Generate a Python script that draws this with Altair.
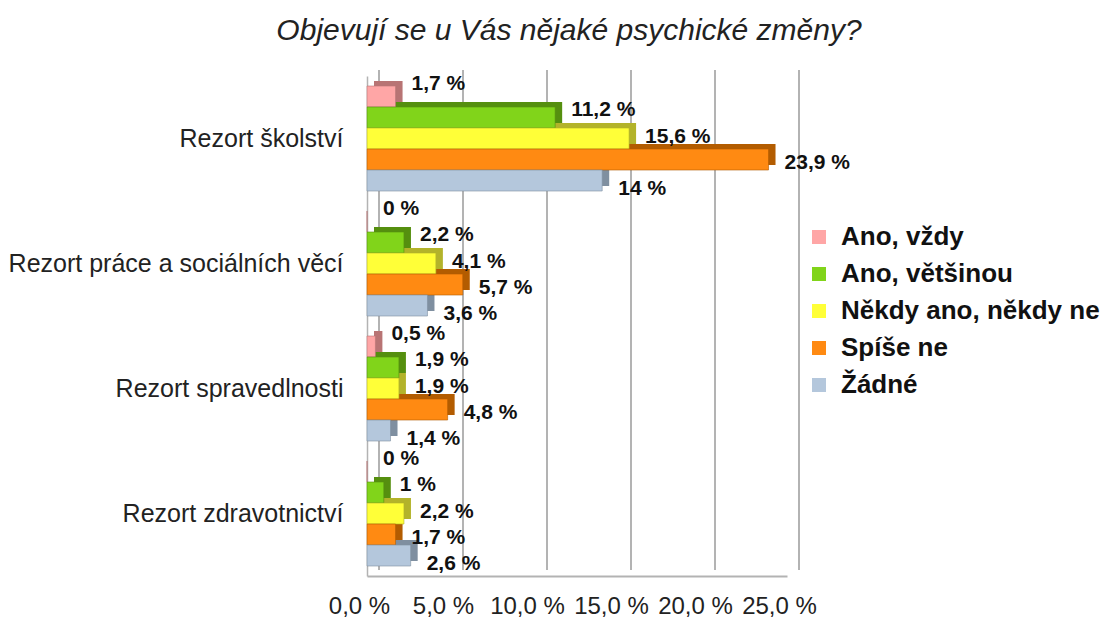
import altair as alt
import pandas as pd

categories = ["Rezort školství", "Rezort práce a sociálních věcí",
              "Rezort spravedlnosti", "Rezort zdravotnictví"]
series = ["Ano, vždy", "Ano, většinou", "Někdy ano, někdy ne", "Spíše ne", "Žádné"]
ano_vzdy = [1.7, 0, 0.5, 0]
ano_vetsinou = [11.2, 2.2, 1.9, 1]
nekdy = [15.6, 4.1, 1.9, 2.2]
spise_ne = [23.9, 5.7, 4.8, 1.7]
zadne = [14, 3.6, 1.4, 2.6]
tick_values = [0, 5, 10, 15, 20, 25]

colors = ["#ffa6a6", "#81d41a", "#ffff38", "#ff8a12", "#b4c7dc"]
dark_colors = ["#b87474", "#558f0f", "#b3b32a", "#b35c00", "#7f8fa0"]

values_by_series = [ano_vzdy, ano_vetsinou, nekdy, spise_ne, zadne]
rows = []
for s_i, s in enumerate(series):
    for c_i, c in enumerate(categories):
        v = values_by_series[s_i][c_i]
        txt = (f"{v:.1f}".rstrip("0").rstrip(".")).replace(".", ",") + " %"
        rows.append({"category": c, "series": s, "value": v, "label": txt,
                     "dark": dark_colors[s_i]})
df = pd.DataFrame(rows)
ticks_df = pd.DataFrame({"t": tick_values})

FONT = "Liberation Sans"
BAND = 105  # group band height (px)

y_enc = alt.Y("category:N", sort=categories,
              scale=alt.Scale(paddingInner=0.16, paddingOuter=0.08),
              axis=alt.Axis(title=None, labelFontSize=25, labelFont=FONT,
                            labelColor="#222222", ticks=False, domain=True,
                            domainColor="#b3b3b3", domainWidth=1.5,
                            labelPadding=24, minExtent=357, maxExtent=357,
                            labelLimit=400))
yoff_front = alt.YOffset("series:N", sort=series,
                         scale=alt.Scale(paddingInner=0, paddingOuter=0, range=[0, BAND]))
yoff_depth = alt.YOffset("series:N", sort=series,
                         scale=alt.Scale(paddingInner=0, paddingOuter=0, range=[-5, BAND - 5]))
x_enc = alt.X("value:Q", scale=alt.Scale(domain=[0, 25], nice=False),
              axis=alt.Axis(title=None, values=tick_values, grid=False, ticks=False,
                            labelFontSize=24, labelFont=FONT, labelColor="#222222",
                            labelOverlap=False, labelFlush=False, labelOffset=-8,
                            labelPadding=18, domainColor="#b3b3b3", domainWidth=2,
                            labelExpr="replace(format(datum.value, '.1f'), '.', ',') + ' %'"))

grid = alt.Chart(ticks_df).mark_rule(color="#b3b3b3", strokeWidth=2, xOffset=12).encode(
    x=alt.X("t:Q", scale=alt.Scale(domain=[0, 25], nice=False)),
    y=alt.value(-6), y2=alt.value(494))

base = alt.Chart(df)
depth = base.mark_bar(xOffset=7).encode(
    x=x_enc, y=y_enc, yOffset=yoff_depth,
    color=alt.Color("dark:N", scale=None))

front = base.mark_bar(strokeWidth=1, strokeOpacity=0.6).encode(
    x=x_enc, y=y_enc, yOffset=yoff_front,
    stroke=alt.Stroke("dark:N", scale=None),
    color=alt.Color("series:N", sort=series,
                    scale=alt.Scale(domain=series, range=colors),
                    legend=alt.Legend(title=None, orient="none", legendX=439, legendY=148,
                                      symbolType="square", symbolSize=196,
                                      symbolStrokeWidth=0, labelLimit=400,
                                      labelFont=FONT, labelFontSize=26,
                                      labelFontWeight="bold", labelColor="#111111",
                                      rowPadding=11, labelOffset=9)))

labels = base.mark_text(align="left", baseline="middle", dx=16, dy=-2,
                        font=FONT, fontSize=21, fontWeight="bold", color="#111111").encode(
    x=x_enc, y=y_enc, yOffset=yoff_front, text="label:N")

chart = alt.layer(grid, depth, front, labels).resolve_scale(
    yOffset="independent"
).properties(
    width=420, height=500,
    padding={"left": 0, "top": 8, "right": 0, "bottom": 0},
    title=alt.TitleParams("Objevují se u Vás nějaké psychické změny?",
                          font=FONT, fontSize=30, fontStyle="italic",
                          fontWeight="normal", color="#222222", offset=23, dx=-8)
).configure_view(stroke=None)

chart.save("out.html", embed_options={"renderer": "svg", "actions": False})
